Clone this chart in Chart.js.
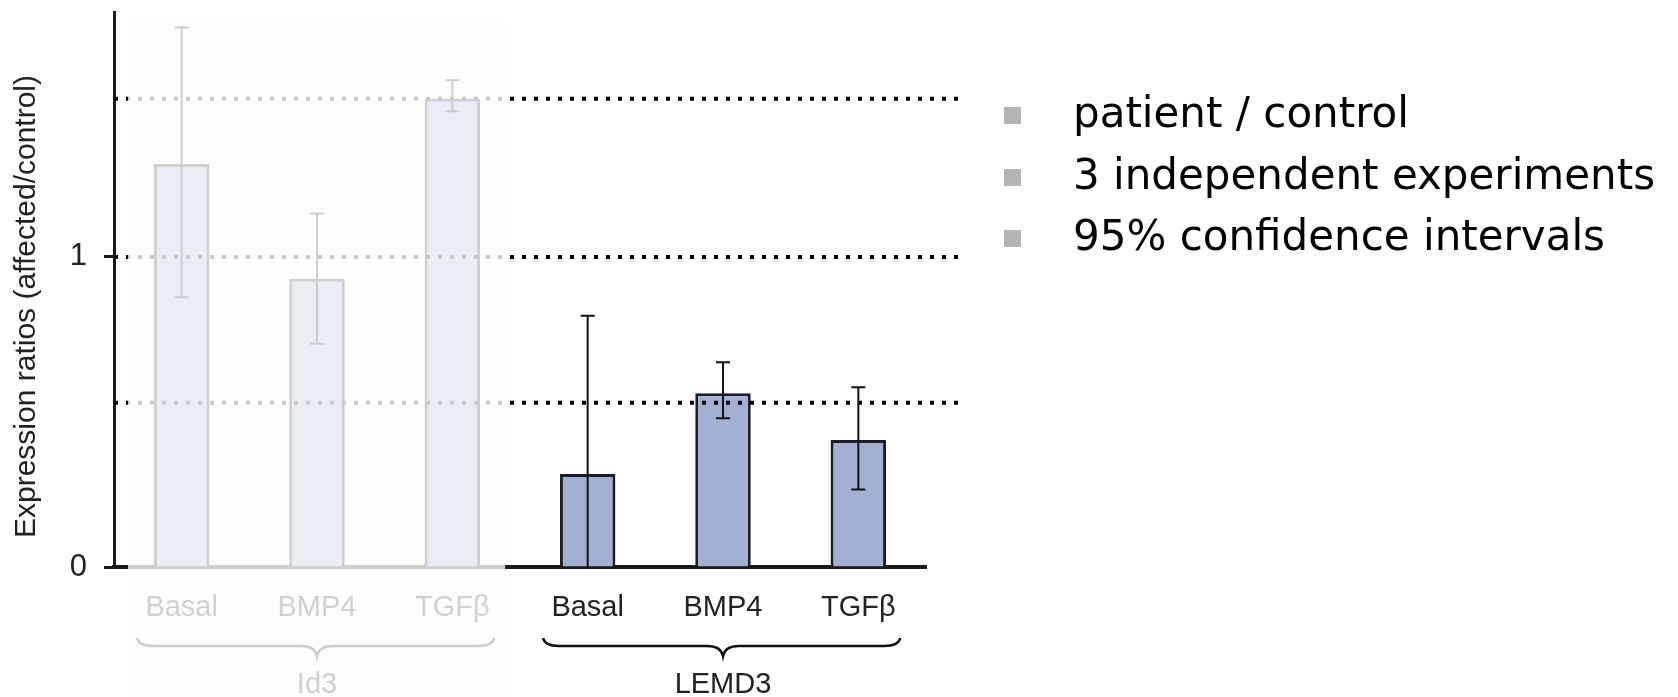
<!DOCTYPE html>
<html>
<head>
<meta charset="utf-8">
<script src="https://cdn.jsdelivr.net/npm/chart.js@4.4.1/dist/chart.umd.min.js"></script>
<style>
  body { margin: 0; background: #fff; }
  #wrap { position: relative; width: 1678px; height: 697px; }
  #notes { position: absolute; left: 1004px; top: 82px; margin: 0; padding: 0; list-style: none;
           font-family: 'DejaVu Sans', sans-serif; font-size: 42px; color: #000; }
  #notes li { height: 61.5px; line-height: 61.5px; display: flex; align-items: center; }
  #notes li span.sq { width: 17px; height: 17px; background: #b4b4b4; margin-right: 52px; margin-top: 6px; }
</style>
</head>
<body>
<div id="wrap">
  <canvas id="chart" width="1678" height="697"></canvas>
  <ul id="notes"></ul>
</div>
<script>
// DATA
var categories = ['Basal', 'BMP4', 'TGF\u03b2', 'Basal', 'BMP4', 'TGF\u03b2'];
var groups = ['', 'Id3', '', '', 'LEMD3', ''];
var ratios = [1.30, 0.93, 1.51, 0.30, 0.56, 0.41];
var ciLow = [0.87, 0.72, 1.47, 0, 0.48, 0.25];
var ciHigh = [1.74, 1.14, 1.57, 0.81, 0.66, 0.58];
var refLines = [0.53, 1, 1.51];
var yTicks = [0, 1];
var notes = ['patient / control', '3 independent experiments', '95% confidence intervals'];

Chart.defaults.font.family = "'Liberation Sans', Arial, sans-serif";

window.onload = function() {
    buildNotes();
    createChart();
};

function buildNotes(){
    var list = document.getElementById('notes');
    notes.forEach((note) => {
        var li = document.createElement('li');
        li.innerHTML = '<span class="sq"></span>' + note;
        list.appendChild(li);
    });
}

// y title sits a bit below the middle of the axis
function yTitle(chart){
    var ctx = chart.ctx;
    var area = chart.chartArea;
    ctx.save();
    ctx.translate(27, (area.top + area.bottom) / 2 + 17);
    ctx.rotate(-Math.PI / 2);
    ctx.font = "30px 'Liberation Sans', Arial, sans-serif";
    ctx.fillStyle = '#222';
    ctx.textAlign = 'center';
    ctx.textBaseline = 'middle';
    ctx.fillText('Expression ratios (affected/control)', 0, 0);
    ctx.restore();
}

// dotted reference lines, error bars, braces and the faded Id3 panel
var extrasPlugin = {
    id: 'extras',
    afterDatasetsDraw(chart) {
        var ctx = chart.ctx;
        var area = chart.chartArea;
        var y = chart.scales.y;
        var meta = chart.getDatasetMeta(0);

        ctx.save();
        ctx.strokeStyle = '#000';
        ctx.lineWidth = 4;
        ctx.setLineDash([4, 8]);
        refLines.forEach((v) => {
            var py = y.getPixelForValue(v);
            ctx.beginPath();
            ctx.moveTo(area.left, py);
            ctx.lineTo(area.right + 38, py);
            ctx.stroke();
        });
        ctx.setLineDash([]);

        ctx.strokeStyle = '#111';
        ctx.lineWidth = 2;
        meta.data.forEach((bar, i) => {
            var top = y.getPixelForValue(ciHigh[i]);
            var bot = y.getPixelForValue(ciLow[i]);
            ctx.beginPath();
            ctx.moveTo(bar.x, top);
            ctx.lineTo(bar.x, bot);
            ctx.moveTo(bar.x - 7, top);
            ctx.lineTo(bar.x + 7, top);
            if (ciLow[i] > 0) {
                ctx.moveTo(bar.x - 7, bot);
                ctx.lineTo(bar.x + 7, bot);
            }
            ctx.stroke();
        });
        ctx.restore();
    },
    afterDraw(chart) {
        var ctx = chart.ctx;
        var area = chart.chartArea;
        var x = chart.scales.x;
        var step = x.getPixelForValue(1) - x.getPixelForValue(0);

        yTitle(chart);

        // curly braces under each group
        ctx.save();
        ctx.strokeStyle = '#111';
        ctx.lineWidth = 2.5;
        [[0, 2], [3, 5]].forEach((g) => {
            var x0 = x.getPixelForValue(g[0]) - step * 0.33;
            var x1 = x.getPixelForValue(g[1]) + step * 0.31;
            var xc = x.getPixelForValue((g[0] + g[1]) / 2);
            var top = area.bottom + 71, mid = area.bottom + 79, tip = area.bottom + 89, r = 16;
            ctx.beginPath();
            ctx.moveTo(x0, top);
            ctx.quadraticCurveTo(x0 + 2, mid, x0 + r, mid);
            ctx.lineTo(xc - r, mid);
            ctx.quadraticCurveTo(xc - 2, mid, xc, tip);
            ctx.quadraticCurveTo(xc + 2, mid, xc + r, mid);
            ctx.lineTo(x1 - r, mid);
            ctx.quadraticCurveTo(x1 - 2, mid, x1, top);
            ctx.stroke();
        });

        // the Id3 half is shown faded
        var fadeLeft = area.left + 14;
        var fadeRight = x.getPixelForValue(2) + step * 0.39;
        ctx.fillStyle = 'rgba(253,253,253,0.8)';
        ctx.fillRect(fadeLeft, area.top + 8, fadeRight - fadeLeft, chart.height - area.top - 8);
        ctx.restore();
    }
};

function createChart(){
    var chart = document.getElementById('chart').getContext('2d');
    new Chart(chart, {
        type: 'bar',
        data: {
            labels: categories,
            datasets: [{
                data: ratios,
                backgroundColor: '#a3b0d3',
                borderColor: '#1c1c28',
                borderWidth: 3,
                barPercentage: 0.41,
                categoryPercentage: 1
            }]
        },
        options: {
            responsive: false,
            animation: false,
            layout: {
                padding: { top: 12, right: 752, left: 0, bottom: 0 }
            },
            scales: {
                x: {
                    z: 1,
                    offset: true,
                    grid: { display: false },
                    border: { display: true, color: '#1a1a1a', width: 4 },
                    ticks: {
                        color: '#222',
                        padding: 16,
                        font: { size: 29 }
                    },
                    afterFit: function(scale) { scale.height = 70; }
                },
                x2: {
                    type: 'category',
                    labels: groups,
                    position: 'bottom',
                    offset: true,
                    grid: { display: false },
                    border: { display: false },
                    ticks: {
                        color: '#222',
                        padding: 23,
                        autoSkip: false,
                        font: { size: 29 }
                    },
                    afterFit: function(scale) { scale.height = 60; }
                },
                y: {
                    min: 0,
                    max: 1.79,
                    afterBuildTicks: function(axis) {
                        axis.ticks = yTicks.map((v) => ({ value: v }));
                    },
                    grid: {
                        drawOnChartArea: false,
                        drawTicks: true,
                        tickLength: 10,
                        tickWidth: 3,
                        tickColor: '#1a1a1a'
                    },
                    border: { display: true, color: '#1a1a1a', width: 3 },
                    ticks: {
                        color: '#222',
                        padding: 17,
                        font: { size: 31 }
                    },
                    afterFit: function(scale) {
                        scale.width = 114;
                        scale.paddingTop = 0;
                        scale.paddingBottom = 0;
                    }
                }
            },
            plugins: {
                legend: { display: false },
                tooltip: { enabled: false }
            }
        },
        plugins: [extrasPlugin]
    });
}
</script>
</body>
</html>
